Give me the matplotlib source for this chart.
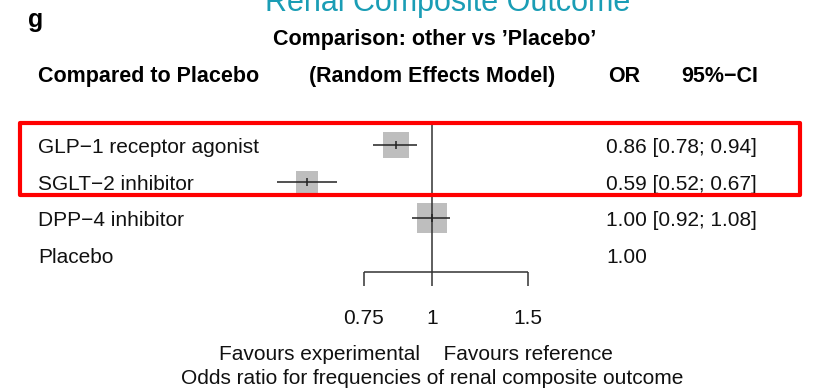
import matplotlib
matplotlib.use('Agg')
import matplotlib.pyplot as plt
import matplotlib.transforms as mtransforms
from matplotlib.patches import Rectangle

plt.rcParams['font.family'] = ['Liberation Sans', 'DejaVu Sans']

# data
treatments = ['GLP\u22121 receptor agonist', 'SGLT\u22122 inhibitor', 'DPP\u22124 inhibitor', 'Placebo']
odds_ratio = [0.86, 0.59, 1.00, 1.00]
ci_low = [0.78, 0.52, 0.92, None]
ci_high = [0.94, 0.67, 1.08, None]
weights = [26, 22, 30, 0]  # box side (relative weight)
axis_ticks = [0.75, 1, 1.5]
axis_tick_labels = ['0.75', '1', '1.5']

W, H = 818, 389
fig = plt.figure(figsize=(W / 100, H / 100), dpi=100)
ax = fig.add_axes([0, 0, 1, 1])
ax.set_xscale('log')
ax.set_xlim(0.1616, 5.097)
ax.set_ylim(H, 0)
ax.axis('off')

# pixel transform (origin top-left) for texts
px = mtransforms.Affine2D().scale(1 / W, -1 / H).translate(0, 1) + fig.transFigure

FS = 15
HFS = 15.5
first_row, row_gap = 145, 36.5
rows = [first_row + i * row_gap for i in range(len(treatments))]
axis_y = 272

# reference line
ax.vlines(1, 122, axis_y, color='#333333', lw=1.1, zorder=2)

for y, name, est, lo, hi, w in zip(rows, treatments, odds_ratio, ci_low, ci_high, weights):
    ax.text(38, y + 1, name, transform=px, fontsize=FS, va='center_baseline', ha='left', color='#111111')
    if lo is not None:
        ax.scatter([est], [y], s=(w * 0.72) ** 2, marker='s', color='#bebebe', linewidths=0, zorder=1)
        ax.hlines(y, lo, hi, color='#222222', lw=1.1, zorder=3)
        ax.vlines(est, y - 4, y + 4, color='#222222', lw=1.1, zorder=3)
        txt = f'{est:.2f} [{lo:.2f}; {hi:.2f}]'
    else:
        txt = f'{est:.2f}'
    ax.text(606, y + 1, txt, transform=px, fontsize=FS, va='center_baseline', ha='left', color='#111111')

# bottom axis
ax.hlines(axis_y, axis_ticks[0], axis_ticks[-1], color='#333333', lw=1.1)
ax.vlines(axis_ticks, axis_y, axis_y + 14, color='#333333', lw=1.1)
for t, lab in zip(axis_ticks, axis_tick_labels):
    ax.text(t, 316, lab, fontsize=FS, ha='center', va='center_baseline', color='#111111')

ax.text(1, 352, 'Favours experimental  ', fontsize=FS, ha='right', va='center_baseline', color='#111111')
ax.text(1, 352, '  Favours reference', fontsize=FS, ha='left', va='center_baseline', color='#111111')
ax.text(1, 376, 'Odds ratio for frequencies of renal composite outcome', fontsize=FS,
        ha='center', va='center_baseline', color='#111111')

# headers
ax.text(448, 11, 'Renal Composite Outcome', transform=px, fontsize=22, ha='center', va='baseline',
        color='#1a9db5')
ax.text(36, 20, 'g', transform=px, fontsize=18, fontweight='bold', ha='center', va='center')
ax.text(435, 37, 'Comparison: other vs \u2019Placebo\u2019', transform=px, fontsize=HFS,
        fontweight='bold', ha='center', va='center_baseline')
ax.text(38, 74, 'Compared to Placebo', transform=px, fontsize=HFS, fontweight='bold', ha='left',
        va='center_baseline')
ax.text(432, 74, '(Random Effects Model)', transform=px, fontsize=HFS, fontweight='bold', ha='center',
        va='center_baseline')
ax.text(624, 74, 'OR', transform=px, fontsize=HFS, fontweight='bold', ha='center', va='center_baseline')
ax.text(720, 74, '95%\u2212CI', transform=px, fontsize=HFS, fontweight='bold', ha='center',
        va='center_baseline')

# highlight box
ax.add_patch(Rectangle((20, 122.5), 780, 72.5, transform=px, fill=False, edgecolor='#ff0000',
                       lw=3.0, joinstyle='round', clip_on=False, zorder=5))

fig.savefig('out.png', dpi=100)
